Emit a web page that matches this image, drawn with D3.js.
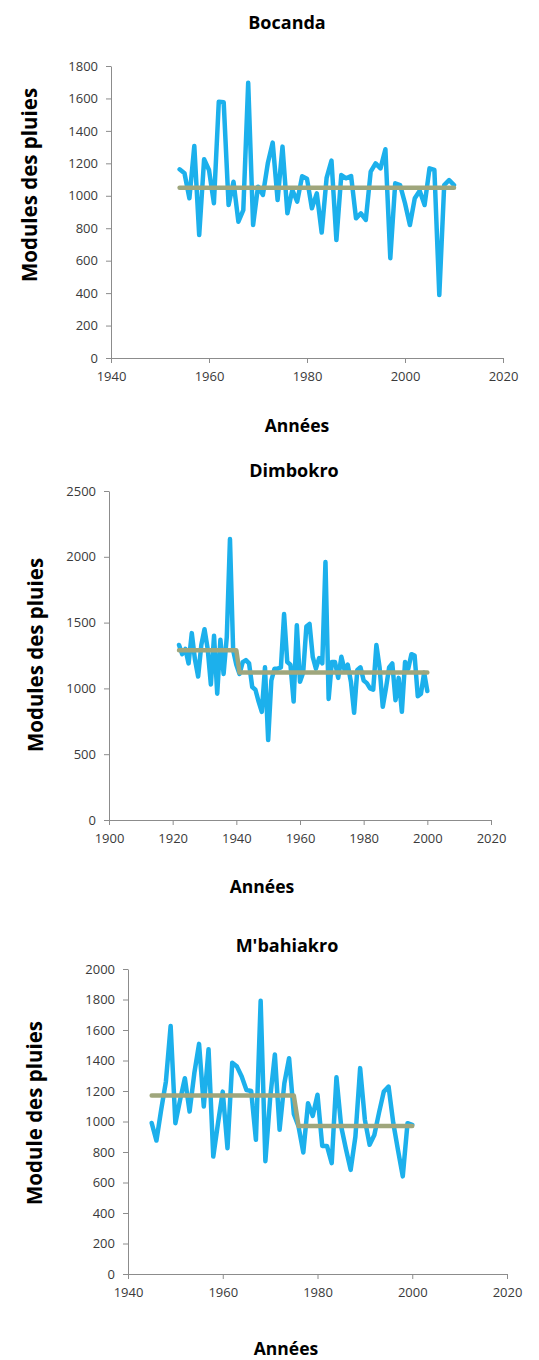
<!DOCTYPE html>
<html>
<head>
<meta charset="utf-8">
<script src="https://cdn.jsdelivr.net/npm/d3@7"></script>
<style>
  body { margin: 0; background: #fff; }
  svg { display: block; }
  .tick text { font-family: "Open Sans", sans-serif; font-size: 13px; fill: #3a3a3a; }
  .domain, .tick line { stroke: #8c8c8c; }
  .title { font-family: "Open Sans", sans-serif; font-weight: bold; fill: #000; }
</style>
</head>
<body>
<svg width="539" height="1360"></svg>
<script>
// Bocanda, 1954-2010
const bocandaStart = 1954;
const bocandaValues = [1163, 1139, 985, 1307, 758, 1225, 1159, 954, 1580, 1576,
  943, 1087, 840, 912, 1697, 820, 1056, 1005, 1200, 1328,
  974, 1303, 892, 1036, 964, 1120, 1105, 923, 1015, 773,
  1110, 1217, 727, 1128, 1108, 1122, 861, 892, 851, 1149,
  1200, 1169, 1287, 615, 1077, 1066, 954, 820, 985, 1031,
  943, 1169, 1159, 388, 1066, 1097, 1066];
const bocandaMeans = [{ from: 1954, to: 2010, value: 1050 }];

// Dimbokro, 1922-2000
const dimbokroStart = 1922;
const dimbokroValues = [1330, 1260, 1300, 1190, 1420, 1220, 1090, 1330, 1450, 1300,
  1030, 1400, 960, 1370, 1110, 1390, 2135, 1290, 1180, 1110,
  1200, 1215, 1190, 1010, 990, 900, 822, 1160, 607, 1060,
  1150, 1150, 1160, 1565, 1200, 1180, 900, 1480, 1050, 1120,
  1470, 1490, 1240, 1150, 1230, 1190, 1960, 920, 1200, 1200,
  1080, 1240, 1140, 1180, 1050, 815, 1140, 1160, 1060, 1040,
  1000, 990, 1330, 1160, 860, 1000, 1160, 1190, 910, 1080,
  822, 1200, 1150, 1260, 1250, 940, 960, 1120, 980];
const dimbokroMeans = [{ from: 1922, to: 1940, value: 1290 }, { from: 1941, to: 2000, value: 1120 }];

// M'bahiakro, 1945-2000
const mbahiakroStart = 1945;
const mbahiakroValues = [990, 875, 1076, 1262, 1627, 989, 1142, 1284, 1065, 1317,
  1509, 1098, 1474, 770, 989, 1196, 825, 1386, 1360, 1295,
  1207, 1200, 880, 1792, 740, 1150, 1440, 946, 1250, 1415,
  1050, 967, 797, 1120, 1037, 1175, 840, 840, 727, 1290,
  967, 820, 683, 901, 1350, 1011, 847, 912, 1060, 1196,
  1229, 989, 810, 640, 989, 978];
const mbahiakroMeans = [{ from: 1945, to: 1975, value: 1170 }, { from: 1976, to: 2000, value: 970 }];

const xTicks1 = [1940, 1960, 1980, 2000, 2020];
const xTicks2 = [1900, 1920, 1940, 1960, 1980, 2000, 2020];
const yTicks1 = [0, 200, 400, 600, 800, 1000, 1200, 1400, 1600, 1800];
const yTicks2 = [0, 500, 1000, 1500, 2000, 2500];
const yTicks3 = [0, 200, 400, 600, 800, 1000, 1200, 1400, 1600, 1800, 2000];

const svg = d3.select('svg');

function toSeries(start, values) {
  return values.map((v, i) => ({ year: start + i, value: v }));
}

// one point per year for the mean line, so the step between segments slopes like Excel's
function meanSeries(means) {
  let out = [];
  means.forEach(m => {
    d3.range(m.from, m.to + 1).forEach(yr => out.push({ year: yr, value: m.value }));
  });
  return out;
}

function drawChart(c) {
  const g = svg.append('g');
  const x = d3.scaleLinear().domain(d3.extent(c.xTicks)).range([c.left, c.right]);
  const y = d3.scaleLinear().domain(d3.extent(c.yTicks)).range([c.bottom, c.top]);

  g.append('g')
    .attr('transform', `translate(0,${c.bottom})`)
    .call(d3.axisBottom(x).tickValues(c.xTicks).tickFormat(d3.format('d')).tickSize(5).tickSizeOuter(0).tickPadding(9));

  g.append('g')
    .attr('transform', `translate(${c.left},0)`)
    .call(d3.axisLeft(y).tickValues(c.yTicks).tickFormat(d3.format('d')).tickSize(5).tickSizeOuter(0).tickPadding(8));

  const line = d3.line().x(d => x(d.year)).y(d => y(d.value));

  g.append('path')
    .datum(toSeries(c.start, c.values))
    .attr('d', line)
    .attr('fill', 'none')
    .attr('stroke', '#1cb0ec')
    .attr('stroke-width', 4.5)
    .attr('stroke-linejoin', 'round')
    .attr('stroke-linecap', 'round');

  g.append('path')
    .datum(meanSeries(c.means))
    .attr('d', line)
    .attr('fill', 'none')
    .attr('stroke', '#9fa67c')
    .attr('stroke-width', 4.5)
    .attr('stroke-linejoin', 'round')
    .attr('stroke-linecap', 'round');

  g.append('text').attr('class', 'title')
    .attr('x', c.titleX).attr('y', c.titleY)
    .attr('text-anchor', 'middle').style('font-size', '18px')
    .text(c.title);

  g.append('text').attr('class', 'title')
    .attr('x', c.xTitleX).attr('y', c.xTitleY)
    .attr('text-anchor', 'middle').style('font-size', '17.5px')
    .text('Années');

  g.append('text').attr('class', 'title')
    .attr('transform', `translate(${c.yTitleX},${c.yTitleY}) rotate(-90)`)
    .attr('text-anchor', 'middle').style('font-size', '20.5px')
    .text(c.yTitle);
}

drawChart({
  title: 'Bocanda', yTitle: 'Modules des pluies',
  start: bocandaStart, values: bocandaValues, means: bocandaMeans,
  xTicks: xTicks1, yTicks: yTicks1,
  left: 111, right: 503, top: 66, bottom: 358,
  titleX: 287, titleY: 29, xTitleX: 297, xTitleY: 432, yTitleX: 37, yTitleY: 185
});

drawChart({
  title: 'Dimbokro', yTitle: 'Modules des pluies',
  start: dimbokroStart, values: dimbokroValues, means: dimbokroMeans,
  xTicks: xTicks2, yTicks: yTicks2,
  left: 109, right: 491, top: 491, bottom: 820,
  titleX: 294, titleY: 477, xTitleX: 262, xTitleY: 893, yTitleX: 43, yTitleY: 655
});

drawChart({
  title: "M'bahiakro", yTitle: 'Module des pluies',
  start: mbahiakroStart, values: mbahiakroValues, means: mbahiakroMeans,
  xTicks: xTicks1, yTicks: yTicks3,
  left: 128, right: 507, top: 969, bottom: 1274,
  titleX: 287, titleY: 952, xTitleX: 286, xTitleY: 1355, yTitleX: 42, yTitleY: 1113
});
</script>
</body>
</html>
